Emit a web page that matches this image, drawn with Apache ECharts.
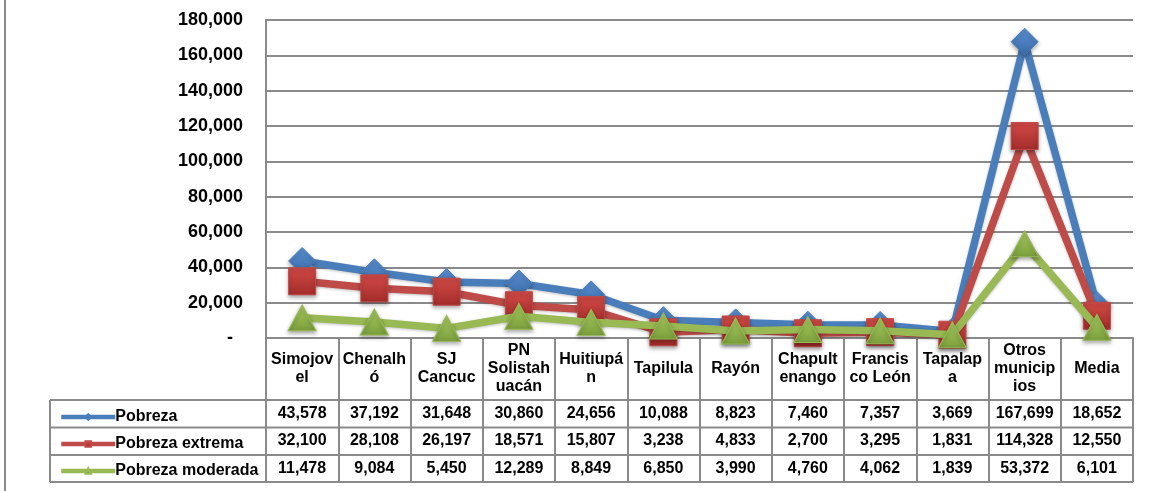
<!DOCTYPE html>
<html>
<head>
<meta charset="utf-8">
<script src="https://cdn.jsdelivr.net/npm/echarts@6/dist/echarts.min.js"></script>
<style>
html,body{margin:0;padding:0;background:#fff;}
#c{width:1152px;height:491px;}
</style>
</head>
<body>
<div id="c"></div>
<script>
const categories = ['Simojov\nel','Chenalh\nó','SJ\nCancuc','PN\nSolistah\nuacán','Huitiupá\nn','Tapilula','Rayón','Chapult\nenango','Francis\nco León','Tapalap\na','Otros\nmunicip\nios','Media'];
const seriesNames = ['Pobreza','Pobreza extrema','Pobreza moderada'];
const pobreza = [43578,37192,31648,30860,24656,10088,8823,7460,7357,3669,167699,18652];
const pobrezaExtrema = [32100,28108,26197,18571,15807,3238,4833,2700,3295,1831,114328,12550];
const pobrezaModerada = [11478,9084,5450,12289,8849,6850,3990,4760,4062,1839,53372,6101];
const yTicks = {min:0, max:180000, interval:20000};

const fmt = v => v.toLocaleString('en-US');
const FONT = '"Liberation Sans", Arial, sans-serif';
const GRID_L = 266, GRID_R = 1133, AXIS_Y = 338;
const rowLines = [400, 427.5, 455, 482];
const lineCol = '#8a8a8a';

const colors = ['#4A7EBB','#BE4B48','#98B954'];
const markerGrad = [
  ['#5a90d0','#3a6aa8'],
  ['#d24a46','#a32c2a'],
  ['#a9cc60','#7a9e3c']
];
const symbols = ['diamond','rect','triangle'];
const symbolSizes = [[27,27],[27,27],[28,26]];
const datas = [pobreza, pobrezaExtrema, pobrezaModerada];

const chart = echarts.init(document.getElementById('c'));

const valueRowAxis = (arr, center) => ({
  type:'category', gridIndex:0, position:'bottom', data: arr.map(fmt),
  axisLine:{show:false}, axisTick:{show:false},
  axisLabel:{interval:0, margin:center - AXIS_Y, verticalAlign:'middle', color:'#000', fontFamily:FONT, fontWeight:'bold', fontSize:16}
});

const graphic = [
  {type:'line', shape:{x1:5,y1:0,x2:5,y2:491}, style:{stroke:lineCol, lineWidth:2}, silent:true},
  {type:'line', shape:{x1:50,y1:rowLines[0],x2:50,y2:rowLines[3]}, style:{stroke:lineCol, lineWidth:2}, silent:true}
];
rowLines.forEach(y => graphic.push({type:'line', shape:{x1:50,y1:y,x2:GRID_R,y2:y}, style:{stroke:lineCol, lineWidth:2}, silent:true}));

const option = {
  backgroundColor:'#fff',
  animation:false,
  grid:{left:GRID_L, right:1152-GRID_R, top:20, bottom:491-AXIS_Y, containLabel:false},
  legend:{
    orient:'vertical', left:54, top:404, itemWidth:54, itemHeight:7, itemGap:11,
    data:seriesNames,
    lineStyle:{width:4.5},
    textStyle:{color:'#000', fontFamily:FONT, fontWeight:'bold', fontSize:16, padding:[0,0,0,-5]},
    selectedMode:false
  },
  xAxis:[
    {
      type:'category', data:categories, boundaryGap:true,
      axisLine:{show:true, lineStyle:{color:lineCol, width:2}},
      axisTick:{show:true, interval:0, length:rowLines[3]-AXIS_Y, lineStyle:{color:lineCol, width:2}},
      axisLabel:{interval:0, margin:31, verticalAlign:'middle', align:'center', color:'#000', fontFamily:FONT, fontWeight:'bold', fontSize:16, lineHeight:18}
    },
    valueRowAxis(pobreza, 413.5),
    valueRowAxis(pobrezaExtrema, 441),
    valueRowAxis(pobrezaModerada, 468.5)
  ],
  yAxis:{
    type:'value', min:yTicks.min, max:yTicks.max, interval:yTicks.interval,
    axisLine:{show:true, lineStyle:{color:lineCol, width:2}},
    axisTick:{show:false},
    splitLine:{show:true, lineStyle:{color:lineCol, width:2}},
    axisLabel:{margin:23, color:'#000', fontFamily:FONT, fontWeight:'bold', fontSize:18,
      formatter: v => v === 0 ? '-  ' : fmt(v)}
  },
  graphic: graphic,
  series: seriesNames.map((name,i) => ({
    name, type:'line', data:datas[i], xAxisIndex:0,
    symbol:symbols[i], symbolSize:symbolSizes[i], showAllSymbol:true,
    lineStyle:{color:colors[i], width:7.5, shadowBlur:3, shadowColor:'rgba(0,0,0,0.25)', shadowOffsetY:1},
    itemStyle:{
      color:new echarts.graphic.LinearGradient(0,0,0,1,[{offset:0,color:markerGrad[i][0]},{offset:1,color:markerGrad[i][1]}]),
      borderColor:colors[i], borderWidth:1,
      shadowBlur:4, shadowColor:'rgba(0,0,0,0.35)', shadowOffsetY:2
    },
    emphasis:{disabled:true},
    z:2+i
  }))
};
option.series.forEach((s,i)=>{ s.color = colors[i]; });
chart.setOption(option);
</script>
</body>
</html>
